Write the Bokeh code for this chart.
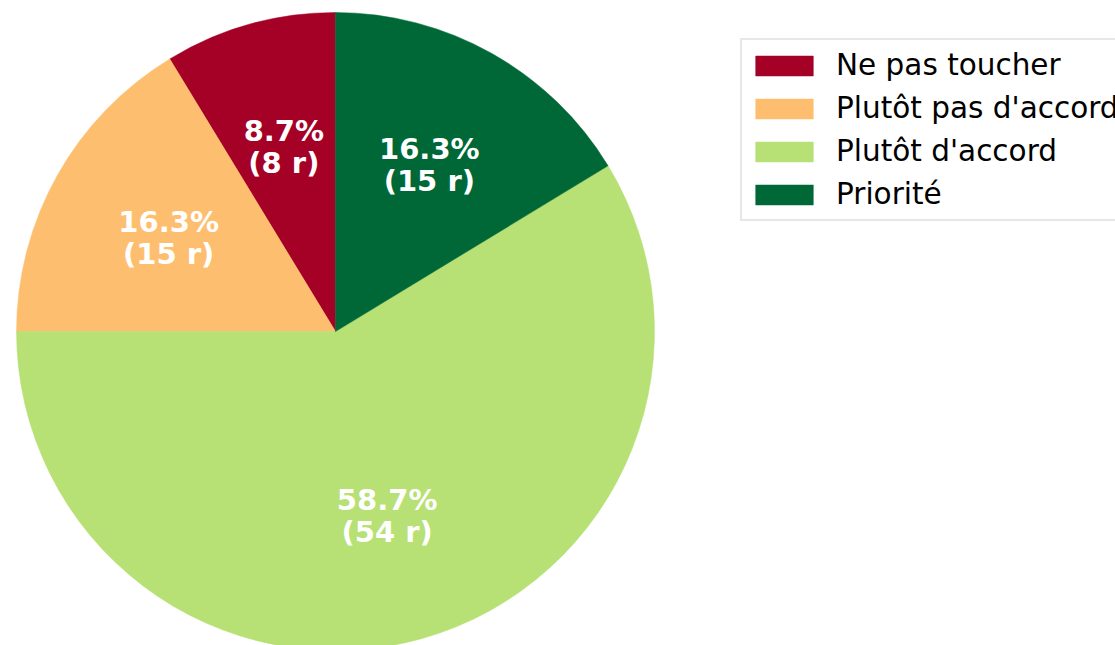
import math
from bokeh.plotting import figure
from bokeh.models import ColumnDataSource, Legend, LegendItem
from bokeh.core.properties import value
from bokeh.embed import file_html
from bokeh.resources import INLINE

categories = ["Ne pas toucher", "Plutôt pas d'accord", "Plutôt d'accord", "Priorité"]
counts = [8, 15, 54, 15]
colors = ["#a50026", "#fdbf6f", "#b7e075", "#006837"]

W, H = 1115, 645
cx, cy, R = 335, 331, 319  # canvas px

total = sum(counts)
starts, ends, lx, ly, labels = [], [], [], [], []
a = math.pi / 2
for c in counts:
    frac = c / total
    s = a
    e = a + frac * 2 * math.pi
    starts.append(s)
    ends.append(e)
    m = (s + e) / 2
    lx.append(0.6 * math.cos(m))
    ly.append(0.6 * math.sin(m))
    labels.append(f"{frac*100:.1f}%\n({c} r)")
    a = e

src = ColumnDataSource(dict(start=starts, end=ends, color=colors, cat=categories))
lsrc = ColumnDataSource(dict(x=lx, y=ly, text=labels))

p = figure(width=W, height=H, output_backend="svg", toolbar_location=None,
           x_range=(-cx / R, (W - cx) / R), y_range=(-(H - cy) / R, cy / R),
           min_border=0)
p.axis.visible = False
p.grid.visible = False
p.outline_line_color = None
p.background_fill_color = "white"

r = p.wedge(x=0, y=0, radius=1, start_angle="start", end_angle="end",
            fill_color="color", line_color="color", line_width=0.5, source=src)

p.text(x="x", y="y", text="text", source=lsrc, text_color="white",
       text_font=value("DejaVu Sans"), text_font_style="bold",
       text_font_size="29px", text_align="center", text_baseline="middle",
       text_line_height=0.95)

items = [LegendItem(label=cat, renderers=[r], index=i) for i, cat in enumerate(categories)]
legend = Legend(items=items, location=(740, H - 221), orientation="vertical",
                glyph_width=72, glyph_height=25, label_height=38,
                label_standoff=16, spacing=5, padding=6, margin=0,
                label_text_font="DejaVu Sans", label_text_font_size="29.5px",
                label_text_color="black", label_text_baseline="middle",
                border_line_color="#d0d0d0", border_line_width=2,
                background_fill_color="white", background_fill_alpha=1)
p.add_layout(legend)

open("out.html", "w").write(file_html(p, INLINE))
